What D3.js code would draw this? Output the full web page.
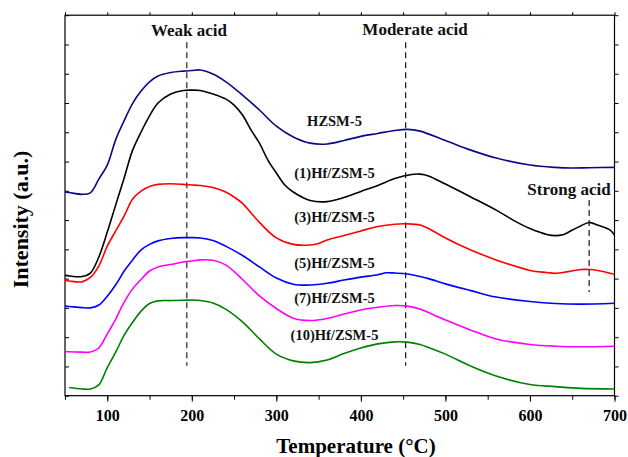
<!DOCTYPE html>
<html><head><meta charset="utf-8">
<script src="https://cdn.jsdelivr.net/npm/d3@7"></script>
<style>body{margin:0;background:#fff}</style>
</head><body>
<svg id="chart" width="628" height="457"></svg>
<script>
// ---- data ----
const seriesNames = ["HZSM-5", "(1)Hf/ZSM-5", "(3)Hf/ZSM-5", "(5)Hf/ZSM-5", "(7)Hf/ZSM-5", "(10)Hf/ZSM-5"];

const tHZSM5 = [50,55,70,80,90,100,110,120,130,140,150,160,175,190,200,210,225,240,260,280,300,320,340,360,380,400,420,440,455,470,500,530,560,600,630,650,670,700];
const iHZSM5 = [6.96,6.94,6.88,6.93,7.40,7.88,8.75,9.40,9.99,10.41,10.72,10.92,11.04,11.09,11.11,11.13,10.99,10.73,10.27,9.76,9.21,8.84,8.63,8.60,8.72,8.86,8.96,9.06,9.10,9.04,8.72,8.39,8.12,7.88,7.80,7.78,7.79,7.80];

const tHf1 = [50,55,70,80,90,100,110,120,130,140,150,160,175,190,200,210,225,240,250,260,270,280,290,300,310,320,340,360,380,400,420,440,460,470,480,500,530,560,580,600,620,630,640,650,660,670,680,690,695,700];
const iHf1 = [4.11,4.09,4.07,4.19,4.74,5.59,6.52,7.44,8.39,9.01,9.56,10.00,10.31,10.43,10.44,10.43,10.31,10.14,9.93,9.59,9.08,8.63,8.05,7.61,7.20,6.96,6.67,6.63,6.77,6.98,7.18,7.42,7.56,7.57,7.51,7.23,6.79,6.34,6.00,5.71,5.51,5.47,5.51,5.66,5.80,5.92,5.83,5.73,5.66,5.49];

const tHf3 = [50,55,70,80,90,100,110,120,130,140,150,160,175,190,200,210,225,240,250,260,280,300,320,340,350,360,380,400,420,440,455,470,480,500,530,560,600,620,630,645,660,670,680,700];
const iHf3 = [3.94,3.92,3.89,4.04,4.43,5.11,5.63,6.14,6.72,6.99,7.15,7.22,7.24,7.22,7.20,7.18,7.11,6.96,6.79,6.57,5.92,5.39,5.17,5.15,5.20,5.32,5.47,5.63,5.78,5.86,5.87,5.83,5.71,5.39,4.98,4.64,4.28,4.21,4.18,4.24,4.31,4.31,4.28,4.15];

const tHf5 = [50,55,70,80,90,100,110,120,130,140,150,160,175,190,200,210,225,240,260,280,300,320,340,360,380,400,420,430,440,455,470,480,500,530,560,600,630,660,700];
const iHf5 = [3.06,3.05,3.01,3.00,3.10,3.40,3.79,4.26,4.64,4.98,5.17,5.29,5.37,5.40,5.40,5.39,5.30,5.11,4.79,4.40,4.02,3.81,3.78,3.84,3.95,4.05,4.13,4.20,4.19,4.16,4.07,4.00,3.82,3.59,3.37,3.22,3.15,3.13,3.16];

const tHf7 = [50,55,70,80,90,100,110,120,130,140,150,160,175,190,200,210,225,240,260,280,300,320,340,360,380,400,420,440,455,470,480,500,530,560,600,630,660,700];
const iHf7 = [1.51,1.50,1.49,1.49,1.63,2.11,2.62,3.20,3.65,3.97,4.26,4.40,4.48,4.57,4.60,4.64,4.63,4.47,3.97,3.41,2.98,2.65,2.57,2.64,2.79,2.93,3.02,3.08,3.06,2.96,2.84,2.59,2.24,1.94,1.75,1.69,1.67,1.69];

const tHf10 = [55,70,80,90,100,110,120,130,140,150,160,175,190,200,210,225,240,260,280,300,320,340,360,380,400,420,440,455,470,480,500,530,560,600,630,660,700];
const iHf10 = [0.28,0.23,0.23,0.37,0.96,1.49,2.07,2.51,2.89,3.15,3.24,3.25,3.26,3.27,3.25,3.17,2.96,2.52,1.94,1.42,1.19,1.13,1.22,1.44,1.63,1.77,1.84,1.83,1.75,1.65,1.42,1.01,0.67,0.38,0.31,0.25,0.23];

const xTickValues = [100, 200, 300, 400, 500, 600, 700];
const xMinorTicks = [50,100,150,200,250,300,350,400,450,500,550,600,650,700];
const yTickValues = [0,1,2,3,4,5,6,7,8,9,10,11,12,13];

// acid-site reference lines: temperature, intensity from, intensity to, label
const acidTemps = [194, 453, 670];
const acidFrom = [1.02, 1.02, 3.54];
const acidTo = [12.08, 12.08, 6.69];
const acidLabels = ["Weak acid", "Moderate acid", "Strong acid"];

// ---- drawing ----
const colors = ["#0a0a85", "#000000", "#ff0000", "#0000ff", "#ff00ff", "#008000"];
const temps = [tHZSM5, tHf1, tHf3, tHf5, tHf7, tHf10];
const ints = [iHZSM5, iHf1, iHf3, iHf5, iHf7, iHf10];

const svg = d3.select("#chart");
const m = {left: 65, right: 614.5, top: 15.2, bottom: 395.7};
const x = d3.scaleLinear().domain([50, 700]).range([m.left, m.right]);
const y = d3.scaleLinear().domain([0, 13]).range([m.bottom, m.top]);
const font = "'Liberation Serif','Times New Roman',serif";

function styleAxis(g) {
  g.select(".domain").remove();
  g.selectAll(".tick line").attr("stroke", "#000").attr("stroke-width", 1);
}

// minor bottom ticks
svg.append("g").attr("transform", `translate(0,${m.bottom})`)
  .call(d3.axisBottom(x).tickValues(xMinorTicks).tickSize(4).tickFormat(""))
  .call(styleAxis);
// major bottom ticks
svg.append("g").attr("transform", `translate(0,${m.bottom})`)
  .call(d3.axisBottom(x).tickValues(xTickValues).tickSize(6).tickPadding(8).tickFormat(d3.format("d")))
  .call(styleAxis)
  .call(g => g.selectAll("text").attr("font-family", font).attr("font-weight", "bold")
    .attr("font-size", "16px").attr("fill", "#000"));
// top ticks
svg.append("g").attr("transform", `translate(0,${m.top})`)
  .call(d3.axisTop(x).tickValues(xMinorTicks).tickSize(3).tickFormat(""))
  .call(styleAxis);
// left ticks (inward)
svg.append("g").attr("transform", `translate(${m.left},0)`)
  .call(d3.axisLeft(y).tickValues(yTickValues).tickSize(-4).tickFormat(""))
  .call(styleAxis);
// right ticks (outward)
svg.append("g").attr("transform", `translate(${m.right},0)`)
  .call(d3.axisRight(y).tickValues(yTickValues).tickSize(4).tickFormat(""))
  .call(styleAxis);

// frame
svg.append("rect").attr("x", m.left).attr("y", m.top)
  .attr("width", m.right - m.left).attr("height", m.bottom - m.top)
  .attr("fill", "none").attr("stroke", "#000").attr("stroke-width", 1.2);

// dashed reference lines
const dashStyles = [{c: "#555", w: 1.6}, {c: "#000", w: 1.1}, {c: "#000", w: 1.1}];
acidTemps.forEach((t, i) => {
  svg.append("line")
    .attr("x1", x(t)).attr("x2", x(t))
    .attr("y1", y(acidTo[i])).attr("y2", y(acidFrom[i]))
    .attr("stroke", dashStyles[i].c).attr("stroke-width", dashStyles[i].w)
    .attr("stroke-dasharray", "6,4");
});

// curves
const line = d3.line().x(d => x(d[0])).y(d => y(d[1])).curve(d3.curveCatmullRom.alpha(0.5));
temps.forEach((ts, i) => {
  const pts = ts.map((t, j) => [t, ints[i][j]]);
  svg.append("path").datum(pts).attr("d", line)
    .attr("fill", "none").attr("stroke", colors[i]).attr("stroke-width", 1.6)
    .attr("stroke-linejoin", "round");
});

// acid labels
const acidLabelPos = [[189, 35.5], [415, 35], [569, 195]];
acidLabels.forEach((s, i) => {
  svg.append("text").attr("x", acidLabelPos[i][0]).attr("y", acidLabelPos[i][1])
    .attr("text-anchor", "middle").attr("font-family", font).attr("font-weight", "bold")
    .attr("font-size", "17px").attr("fill", "#111").text(s);
});

// series labels
const seriesLabelY = [125.7, 178, 221.7, 267.7, 302.7, 340];
seriesNames.forEach((s, i) => {
  svg.append("text").attr("x", 334.5).attr("y", seriesLabelY[i])
    .attr("text-anchor", "middle").attr("font-family", font).attr("font-weight", "bold")
    .attr("font-size", "14.5px").attr("fill", "#111").text(s);
});

// axis titles
svg.append("text").attr("x", 356).attr("y", 452.5).attr("text-anchor", "middle")
  .attr("font-family", font).attr("font-weight", "bold").attr("font-size", "21px")
  .attr("fill", "#000").text("Temperature (°C)");
svg.append("text").attr("transform", "translate(28,219.5) rotate(-90)").attr("text-anchor", "middle")
  .attr("font-family", font).attr("font-weight", "bold").attr("font-size", "22px")
  .attr("fill", "#000").text("Intensity (a.u.)");
</script>
</body></html>
